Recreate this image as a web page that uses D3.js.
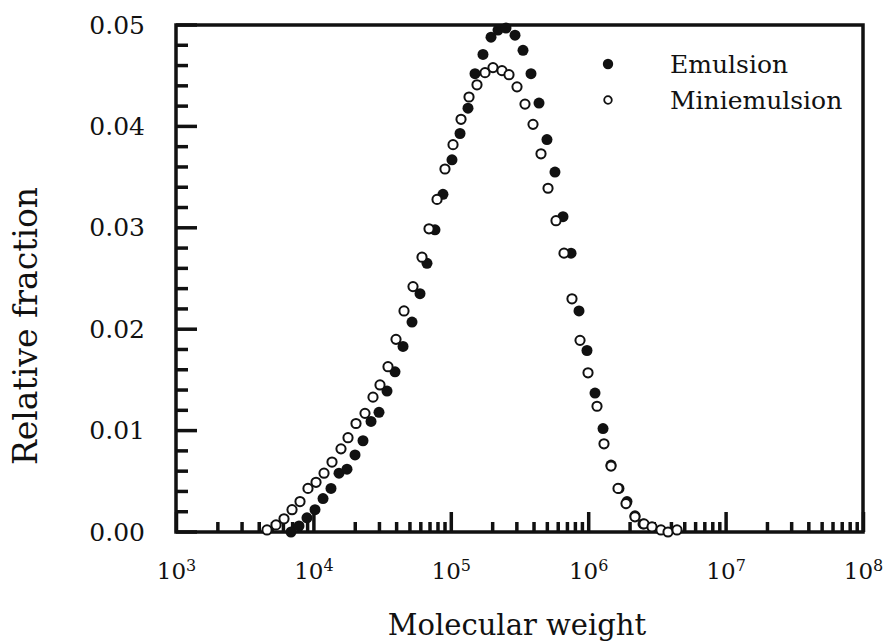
<!DOCTYPE html>
<html>
<head>
<meta charset="utf-8">
<script src="https://cdn.jsdelivr.net/npm/d3@7"></script>
<style>
  body { margin: 0; background: #fff; }
  text { font-family: "DejaVu Serif", "Liberation Serif", serif; fill: #111; }
</style>
</head>
<body>
<script>
// molecular weight distribution
var emulsionMW = [6870, 7860, 8980, 10270, 11750, 13430, 15360, 17560, 20090, 22960,
  26260, 30020, 34340, 39260, 44900, 52200, 59700, 67100, 76700, 87700,
  102000, 116700, 133400, 150000, 171500, 196200, 220600, 252200, 293300, 335400,
  383400, 438500, 501000, 573000, 655500, 750000, 857000, 980000, 1121000, 1282000,
  1466000, 1675000, 1916000, 2190000, 2506000];
var emulsionFrac = [0.0000, 0.0006, 0.0014, 0.0022, 0.0033, 0.0043, 0.0058, 0.0062, 0.0076, 0.0090,
  0.0109, 0.0118, 0.0139, 0.0158, 0.0183, 0.0207, 0.0235, 0.0265, 0.0298, 0.0333,
  0.0367, 0.0393, 0.0418, 0.0452, 0.0471, 0.0488, 0.0495, 0.0497, 0.0490, 0.0475,
  0.0452, 0.0423, 0.0387, 0.0355, 0.0311, 0.0275, 0.0218, 0.0179, 0.0137, 0.0102,
  0.0066, 0.0043, 0.0030, 0.0016, 0.0008];

var miniMW = [4596, 5343, 6110, 6990, 7990, 9130, 10450, 11950, 13660, 15880,
  17860, 20420, 23740, 27150, 30530, 34910, 39920, 45650, 53080, 61710,
  69400, 79400, 90700, 103800, 118700, 135700, 155100, 177400, 202800, 235800,
  265200, 303300, 346700, 396600, 453400, 510000, 583000, 666700, 762000, 872000,
  997000, 1159000, 1303000, 1466000, 1648000, 1884000, 2190000, 2548000, 2913000, 3386000,
  3810000, 4430000];
var miniFrac = [0.0002, 0.0007, 0.0013, 0.0022, 0.0030, 0.0043, 0.0049, 0.0058, 0.0069, 0.0082,
  0.0093, 0.0107, 0.0117, 0.0133, 0.0145, 0.0163, 0.0190, 0.0218, 0.0242, 0.0271,
  0.0299, 0.0328, 0.0358, 0.0382, 0.0407, 0.0429, 0.0441, 0.0453, 0.0458, 0.0455,
  0.0451, 0.0439, 0.0422, 0.0402, 0.0373, 0.0339, 0.0307, 0.0275, 0.0230, 0.0189,
  0.0157, 0.0124, 0.0087, 0.0065, 0.0043, 0.0028, 0.0015, 0.0008, 0.0005, 0.0002,
  0.0000, 0.0002];

var xDomain = [1e3, 1e8];
var yDomain = [0, 0.05];
var yMajorTicks = [0, 0.01, 0.02, 0.03, 0.04, 0.05];
var seriesNames = ['Emulsion', 'Miniemulsion'];

var chart = function() {
  var width = 883, height = 642;
  var plotLeft = 176, plotTop = 25, plotRight = 863, plotBottom = 532;

  var svg = d3.select('body').append('svg')
    .attr('width', width)
    .attr('height', height);

  var x = d3.scaleLog().domain(xDomain).range([plotLeft, plotRight]);
  var y = d3.scaleLinear().domain(yDomain).range([plotBottom, plotTop]);

  // minor ticks: 2..9 in each decade, majors are the decades
  var xAll = x.ticks();
  var xMajor = xAll.filter(function(d) { return Math.abs(Math.log10(d) % 1) < 1e-9; });
  var xMinor = xAll.filter(function(d) { return xMajor.indexOf(d) < 0; });
  var yMinor = d3.range(0, 0.0501, 0.002);

  var styleAxis = function(g) {
    g.select('.domain').remove();
    g.selectAll('line').attr('stroke', '#111').attr('stroke-width', 3.5);
  };

  // bottom axis, ticks point into the plot
  svg.append('g')
    .attr('transform', 'translate(0,' + plotBottom + ')')
    .call(d3.axisBottom(x).tickValues(xMinor).tickSize(-10).tickFormat(''))
    .call(styleAxis);

  var xMajorAxis = svg.append('g')
    .attr('transform', 'translate(0,' + plotBottom + ')')
    .call(d3.axisBottom(x).tickValues(xMajor).tickSizeInner(-20).tickSizeOuter(0).tickPadding(31))
    .call(styleAxis);

  xMajorAxis.selectAll('text')
    .attr('font-size', 23)
    .each(function(d) {
      var t = d3.select(this);
      t.text('10');
      t.append('tspan')
        .attr('dy', '-0.5em')
        .attr('font-size', 16)
        .text(Math.round(Math.log10(d)));
    });

  // left axis labels
  svg.append('g')
    .attr('transform', 'translate(' + plotLeft + ',0)')
    .call(d3.axisLeft(y).tickValues(yMajorTicks).tickSize(0)
      .tickPadding(31).tickFormat(d3.format('.2f')))
    .call(styleAxis)
    .selectAll('text')
    .attr('font-size', 25);

  // left ticks, pointing right into the plot
  svg.append('g').selectAll('line')
    .data(yMinor)
    .enter().append('line')
    .attr('x1', plotLeft)
    .attr('x2', function(d, i) { return plotLeft + (i % 5 === 0 ? 21 : 12); })
    .attr('y1', function(d) { return y(d); })
    .attr('y2', function(d) { return y(d); })
    .attr('stroke', '#111')
    .attr('stroke-width', 3.5);

  // frame
  svg.append('rect')
    .attr('x', plotLeft)
    .attr('y', plotTop)
    .attr('width', plotRight - plotLeft)
    .attr('height', plotBottom - plotTop)
    .attr('fill', 'none')
    .attr('stroke', '#111')
    .attr('stroke-width', 3.5);

  // points: filled first, open circles sit on top
  svg.append('g').selectAll('circle')
    .data(d3.zip(emulsionMW, emulsionFrac))
    .enter().append('circle')
    .attr('cx', function(d) { return x(d[0]); })
    .attr('cy', function(d) { return y(d[1]); })
    .attr('r', 5.5)
    .attr('fill', '#111');

  svg.append('g').selectAll('circle')
    .data(d3.zip(miniMW, miniFrac))
    .enter().append('circle')
    .attr('cx', function(d) { return x(d[0]); })
    .attr('cy', function(d) { return y(d[1]); })
    .attr('r', 4.6)
    .attr('fill', '#fff')
    .attr('stroke', '#111')
    .attr('stroke-width', 2);

  // legend
  var legend = svg.append('g').attr('transform', 'translate(608,64)');
  legend.append('circle').attr('r', 5.2).attr('fill', '#111');
  legend.append('circle').attr('cy', 36).attr('r', 3.8)
    .attr('fill', '#fff').attr('stroke', '#111').attr('stroke-width', 1.8);
  legend.selectAll('text')
    .data(seriesNames)
    .enter().append('text')
    .attr('x', 62)
    .attr('y', function(d, i) { return 9 + i * 36; })
    .attr('font-size', 25)
    .text(function(d) { return d; });

  // axis titles
  svg.append('text')
    .attr('x', 517)
    .attr('y', 635)
    .attr('text-anchor', 'middle')
    .attr('font-size', 29)
    .text('Molecular weight');

  svg.append('text')
    .attr('transform', 'translate(37,326) rotate(-90)')
    .attr('text-anchor', 'middle')
    .attr('font-size', 33)
    .text('Relative fraction');
};

chart();
</script>
</body>
</html>
